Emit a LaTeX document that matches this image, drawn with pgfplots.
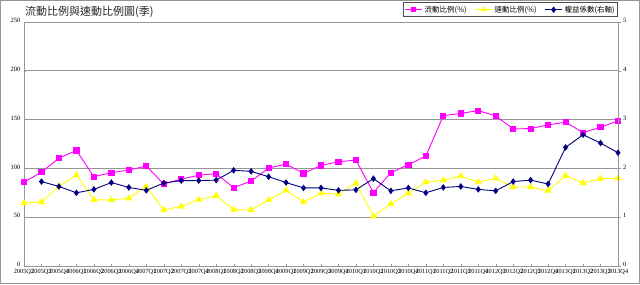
\documentclass[border=0pt]{standalone}
\usepackage{pgfplots}
\pgfplotsset{compat=1.18}
\usepackage{pgfplotstable}
\usepackage{fontspec}
\setmainfont{Liberation Serif}
\newfontfamily\cjk{Noto Sans CJK TC}
\definecolor{gridgray}{RGB}{150,150,150}
\definecolor{mag}{RGB}{255,0,255}
\definecolor{yel}{RGB}{255,255,0}
\definecolor{nav}{RGB}{0,0,128}
\pgfplotstableread{
x cur quick
0 86 64.6
1 96 65.6
2 110.5 81.6
3 118.4 93.2
4 91.5 67.7
5 95.6 67.7
6 98.3 69.4
7 102.4 81.3
8 84 57.5
9 89 60.9
10 93 68
11 94.6 72
12 80.3 57.8
13 87 57.5
14 100.3 67.7
15 104.4 77.6
16 94.9 65.6
17 103 74.5
18 106.8 73.8
19 108.5 85
20 75.2 51
21 95.6 63.6
22 103.8 74.5
23 112.6 86
24 154 87.8
25 156.4 92.1
26 159.2 86
27 153.8 89.8
28 140.5 80.9
29 140.8 80.9
30 144.6 77.2
31 147.3 92.5
32 136.7 85
33 142.1 89.5
34 148.7 89.8
}\leftdata
\pgfplotstableread{
x eq
1 1.73
2 1.63
3 1.50
4 1.57
5 1.71
6 1.61
7 1.55
8 1.70
9 1.75
10 1.75
11 1.76
12 1.96
13 1.94
14 1.83
15 1.71
16 1.60
17 1.60
18 1.55
19 1.56
20 1.79
21 1.54
22 1.60
23 1.50
24 1.61
25 1.63
26 1.57
27 1.54
28 1.73
29 1.76
30 1.68
31 2.43
32 2.69
33 2.52
34 2.32
}\rightdata
\begin{document}
\begin{tikzpicture}[x=1pt,y=1pt]
\draw[gridgray,line width=1pt] (-23.5pt,-17.5pt) rectangle (615.5pt,265.5pt);
\node[anchor=west,inner sep=0pt,font=\cjk\fontsize{11}{12}\selectfont,text=black!85] at (1pt,254pt) {流動比例與速動比例圖(季)};
\begin{axis}[
  at={(0,0)}, anchor=south west, scale only axis,
  width=594pt, height=244pt,
  xmin=0, xmax=34, ymin=0, ymax=250,
  axis line style={gridgray},
  ytick={0,50,100,150,200,250},
  xtick={0,...,34},
  xticklabels={2005Q2,2005Q3,2005Q4,2006Q1,2006Q2,2006Q3,2006Q4,2007Q1,2007Q2,2007Q3,2007Q4,2008Q1,2008Q2,2008Q3,2008Q4,2009Q1,2009Q2,2009Q3,2009Q4,2010Q1,2010Q2,2010Q3,2010Q4,2011Q1,2011Q2,2011Q3,2011Q4,2012Q1,2012Q2,2012Q3,2012Q4,2013Q1,2013Q2,2013Q3,2013Q4},
  ymajorgrids, grid style={gridgray,line width=0.8pt},
  tick style={gridgray},
  xtick pos=bottom, ytick pos=left,
  major tick length=2pt,
  tick align=inside,
  x tick label style={font=\fontsize{6.3}{7}\selectfont, inner sep=0.5pt, yshift=-3pt},
  y tick label style={font=\fontsize{6.5}{7}\selectfont, inner sep=0.5pt, xshift=-3pt, yshift=1.5pt},
  /pgf/number format/assume math mode=true,
  clip=false,
]
\addplot[mag, line width=0.9pt, mark=square*, mark size=2.6pt, mark options={solid,fill=mag,draw=mag}] table[x=x,y=cur] {\leftdata};
\addplot[yel, line width=0.9pt, mark=triangle*, mark size=3.2pt, mark options={solid,fill=yel,draw=yel}] table[x=x,y=quick] {\leftdata};
\end{axis}
\begin{axis}[
  at={(0,0)}, anchor=south west, scale only axis,
  width=594pt, height=244pt,
  xmin=0, xmax=34, ymin=0, ymax=5,
  axis x line=none,
  axis y line*=right,
  axis line style={gridgray},
  ytick={0,1,2,3,4,5},
  tick style={gridgray},
  major tick length=3pt,
  tick align=outside,
  y tick label style={font=\fontsize{6.5}{7}\selectfont, inner sep=0.5pt, xshift=1.5pt, yshift=1.5pt},
  /pgf/number format/assume math mode=true,
  legend columns=3,
  legend style={at={(1,1)}, anchor=south east, yshift=5pt, xshift=0pt,
    draw=black!70, line width=0.6pt, inner sep=1pt,
    font=\cjk\fontsize{7.5}{8}\selectfont,
    /tikz/every even column/.append style={column sep=6pt}},
  legend image post style={line width=0.9pt},
  clip=false,
]
\addlegendimage{mag, line width=0.9pt, mark=square*, mark size=2pt, mark options={fill=mag,draw=mag}}
\addlegendentry{流動比例(\%)}
\addlegendimage{yel, line width=0.9pt, mark=triangle*, mark size=2.5pt, mark options={fill=yel,draw=yel}}
\addlegendentry{速動比例(\%)}
\addplot[nav, line width=0.9pt, mark=diamond*, mark size=2.6pt, mark options={solid,fill=nav,draw=nav}] table[x=x,y=eq] {\rightdata};
\addlegendentry{權益係數(右軸)}
\end{axis}
\end{tikzpicture}
\end{document}
